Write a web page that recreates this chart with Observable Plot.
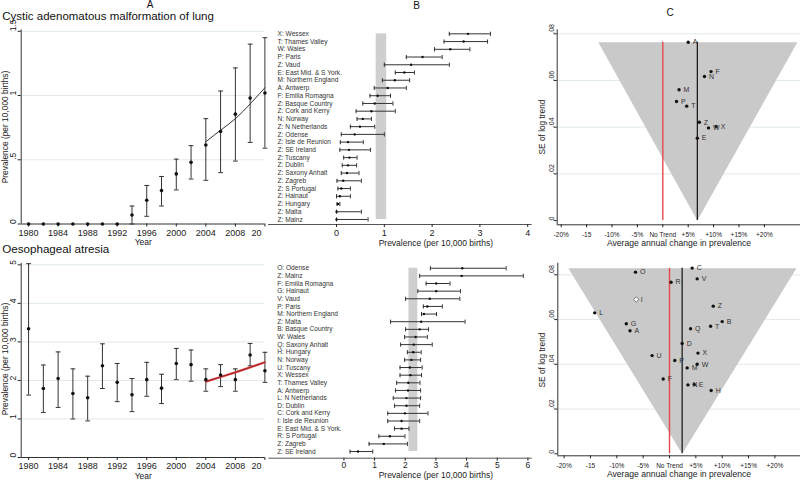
<!DOCTYPE html>
<html>
<head>
<meta charset="utf-8">
<script src="https://cdn.jsdelivr.net/npm/d3@7"></script>
<script src="https://cdn.jsdelivr.net/npm/@observablehq/plot@0.6"></script>
<style>
  html, body { margin: 0; padding: 0; background: #fff; }
  #root { position: relative; width: 800px; height: 480px; overflow: hidden; font-family: "Liberation Sans", Arial, sans-serif; }
  #root > svg { position: absolute; max-width: none !important; }
  .t { position: absolute; white-space: nowrap; line-height: 1; color: #222; }
</style>
</head>
<body>
<div id="root"></div>
<script>
// ---------------- DATA ----------------
const years = [1980,1982,1984,1986,1988,1990,1992,1994,1996,1998,2000,2002,2004,2006,2008,2010,2012];
const yearTicks = [1980,1984,1988,1992,1996,2000,2004,2008,2012];
const yearTickLabels = ["1980","1984","1988","1992","1996","2000","2004","2008","20"];

// Cystic adenomatous malformation of lung (per 10,000 births)
const cpamRate = [0,0,0,0,0,0,0,0.07,0.185,0.26,0.39,0.48,0.615,0.72,0.855,0.98,1.02];
const cpamLo   = [0,0,0,0,0,0,0,0,0.06,0.14,0.265,0.35,0.34,0.40,0.49,0.635,0.59];
const cpamHi   = [0,0,0,0,0,0,0,0.14,0.30,0.37,0.505,0.61,0.82,1.035,1.215,1.40,1.45];
const trendYears = [2004,2006,2008,2010,2012];
const cpamTrend = [0.64,0.73,0.82,0.935,1.06];
const cpamYTicks = [0,0.5,1,1.5];
const cpamYLabels = ["0",".5","1","1.5"];

// Oesophageal atresia
const oaRate = [3.34,1.79,2.05,1.66,1.55,2.38,1.95,1.63,2.02,1.80,2.44,2.41,2.02,2.14,2.02,2.66,2.25];
const oaLo   = [1.62,1.17,1.30,1.00,0.95,1.79,1.45,1.19,1.59,1.40,2.02,1.98,1.72,1.84,1.72,2.38,1.95];
const oaHi   = [5.03,2.40,2.74,2.30,2.11,2.95,2.44,2.05,2.47,2.16,2.83,2.79,2.30,2.41,2.30,2.96,2.73];
const oaTrend = [1.97,2.09,2.21,2.34,2.47];
const oaYTicks = [0,1,2,3,4,5];
const oaYLabels = ["0","1","2","3","4","5"];

// Panel B, registries 2004-2010
const cpamRegions = ["X: Wessex","T: Thames Valley","W: Wales","P: Paris","Z: Vaud","E: East Mid. & S York.","M: Northern England","A: Antwerp","F: Emilia Romagna","Z: Basque Country","Z: Cork and Kerry","N: Norway","Z: N Netherlands","Z: Odense","Z: Isle de Reunion","Z: SE Ireland","Z: Tuscany","Z: Dublin","Z: Saxony Anhalt","Z: Zagreb","Z: S Portugal","Z: Hainaut","Z: Hungary","Z: Malta","Z: Mainz"];
const cpamRegRate = [2.75,2.66,2.38,1.80,1.56,1.42,1.22,1.07,0.86,0.80,0.73,0.55,0.49,0.38,0.24,0.26,0.27,0.24,0.22,0.14,0.10,0.07,0.03,0,0];
const cpamRegLo   = [2.36,2.25,2.05,1.46,1.00,1.23,0.96,0.79,0.70,0.55,0.41,0.43,0.29,0.10,0.08,0.07,0.15,0.12,0.10,0.01,0.03,0,0.01,0,0];
const cpamRegHi   = [3.22,3.16,2.79,2.21,2.36,1.63,1.53,1.46,1.13,1.18,1.23,0.73,0.80,1.00,0.56,0.71,0.43,0.42,0.47,0.52,0.29,0.29,0.07,0.52,0.66];
const cpamBand = [0.83,1.05];
const cpamBTicks = [0,1,2,3,4];

const oaRegions = ["O: Odense","Z: Mainz","F: Emilia Romagna","G: Hainaut","V: Vaud","P: Paris","M: Northern England","Z: Malta","B: Basque Country","W: Wales","Q: Saxony Anhalt","H: Hungary","N: Norway","U: Tuscany","X: Wessex","T: Thames Valley","A: Antwerp","L: N Netherlands","D: Dublin","C: Cork and Kerry","I: Isle de Reunion","E: East Mid. & S York.","R: S Portugal","Z: Zagreb","Z: SE Ireland"];
const oaRegRate = [3.86,3.84,3.01,3.01,2.80,2.72,2.61,2.52,2.47,2.34,2.28,2.26,2.20,2.15,2.17,2.10,2.09,2.04,2.04,1.99,1.88,1.88,1.50,1.30,0.46];
const oaRegLo   = [2.82,2.47,2.68,2.41,2.01,2.59,2.53,1.52,2.01,1.98,1.85,2.07,1.98,1.83,1.83,1.72,1.68,1.61,1.65,1.43,1.43,1.65,1.14,0.82,0.20];
const oaRegHi   = [5.29,5.85,3.46,3.80,3.78,3.21,3.02,3.95,2.76,2.72,2.88,2.52,2.50,2.55,2.53,2.48,2.50,2.50,2.47,2.74,2.47,2.12,1.99,2.07,0.94];
const oaBand = [2.12,2.41];
const oaBTicks = [0,1,2,3,4,5,6];

// Panel C, funnel plots
const cXTicks = [-20,-15,-10,-5,0,5,10,15,20];
const cXLabels = ["-20%","-15","-10%","-5%","No Trend","+5%","+10%","+15%","+20%"];
const cYTicks = [0,0.02,0.04,0.06,0.08];
const cYLabels = ["0",".02",".04",".06",".08"];

const cpamIds    = ["A","F","N","M","P","T","Z","W","X","E"];
const cpamChange = [5.0,9.5,8.2,3.2,2.7,4.7,7.2,9.0,10.5,6.8];
const cpamSE     = [0.0764,0.0638,0.0617,0.056,0.051,0.049,0.0421,0.0397,0.0403,0.0353];
const cpamFunnelX  = [-12.7,6.8,26.5];
const cpamFunnelSE = [0.0764,0,0.0764];
const cpamPooled = 6.8;

const oaIds    = ["C","O","V","R","I","Z","L","G","B","T","A","Q","D","X","U","P","W","M","F","N","E","H"];
const oaChange = [4.3,-6.45,5.25,0.3,-6.3,8.3,-14.2,-8.2,10.0,7.8,-7.5,4.0,2.4,5.4,-3.3,1.0,5.25,3.35,-1.2,3.5,4.7,7.9];
const oaSE     = [0.083,0.0812,0.0782,0.0767,0.069,0.066,0.063,0.0581,0.0591,0.057,0.055,0.0559,0.0493,0.045,0.0439,0.0417,0.040,0.0384,0.0334,0.0308,0.031,0.0283];
const oaHollow = ["I"];
const oaFunnelX  = [-19.2,2.4,24.1];
const oaFunnelSE = [0.0829,0,0.0829];
const oaPooled = 2.4;

// ---------------- STYLE ----------------
const ink = "#222", axisInk = "#333", barInk = "#333", gridInk = "#e0e9ed", bandFill = "#cfcfcf", funnelFill = "#c9c9c9", redInk = "#e8474a";
const font = "'Liberation Sans', Arial, sans-serif";
const baseStyle = {background: "transparent", color: ink, fontFamily: font, fontSize: "9px", overflow: "visible"};
const hcap = {draw(ctx, size) { const r = Math.sqrt(size / Math.PI); ctx.moveTo(-r, 0); ctx.lineTo(r, 0); }};
const vcap = {draw(ctx, size) { const r = Math.sqrt(size / Math.PI); ctx.moveTo(0, -r); ctx.lineTo(0, r); }};

const root = document.getElementById("root");
function place(el, left, top) { el.style.left = left + "px"; el.style.top = top + "px"; root.appendChild(el); }
function txt(s, x, baseline, size, anchor = "start", color = "#222") {
  const d = document.createElement("div");
  d.className = "t"; d.textContent = s;
  d.style.fontSize = size + "px"; d.style.color = color;
  d.style.top = (baseline - 0.8465 * size) + "px";
  d.style.left = x + "px";
  if (anchor === "middle") d.style.transform = "translateX(-50%)";
  root.appendChild(d);
}
function vtxt(s, cx, cy, size) {
  const d = document.createElement("div");
  d.className = "t"; d.textContent = s; d.style.fontSize = size + "px";
  d.style.left = cx + "px"; d.style.top = cy + "px";
  d.style.transform = "translate(-50%,-50%) rotate(-90deg)";
  root.appendChild(d);
}

// ---------------- PANEL A ----------------
function trendPanel({rate, lo, hi, trend, yTicks, yLabels, ymax, top, height, mt, mb, red, pad}) {
  const data = years.map((y, i) => ({year: y, rate: rate[i], lo: lo[i], hi: hi[i]}));
  const bars = data.filter(d => d.hi > d.lo);
  const tr = trendYears.map((y, i) => ({year: y, v: trend[i]}));
  const last = yearTicks[yearTicks.length - 1];
  const width = 280;
  const marks = [
    Plot.ruleY(yTicks.slice(1), {stroke: gridInk}),
    Plot.ruleX([1979], {stroke: axisInk}),
    Plot.ruleY([0], {stroke: axisInk}),
    Plot.axisX({ticks: yearTicks, tickFormat: d => d === last ? "" : yearTickLabels[yearTicks.indexOf(d)], tickSize: 3, tickPadding: pad, fontSize: 9, label: null}),
    Plot.text([last], {x: d => d, text: () => yearTickLabels[yearTickLabels.length - 1], frameAnchor: "bottom", lineAnchor: "top", textAnchor: "end", dx: -3.5, dy: 3 + pad, fontSize: 9, fill: ink}),
    Plot.axisY({ticks: yTicks, tickFormat: () => "", tickSize: 3, tickPadding: 0, label: null}),
    Plot.text(yTicks, {y: d => d, text: (d, i) => yLabels[i], frameAnchor: "left", rotate: -90, dx: -7.6, fontSize: 8.5, fill: ink}),
    Plot.ruleX(bars, {x: "year", y1: "lo", y2: "hi", stroke: barInk, strokeWidth: 1}),
    Plot.dot(bars, {x: "year", y: "lo", symbol: hcap, r: 2.4, stroke: barInk, strokeWidth: 1}),
    Plot.dot(bars, {x: "year", y: "hi", symbol: hcap, r: 2.4, stroke: barInk, strokeWidth: 1}),
  ];
  if (red) {
    marks.push(Plot.line(tr, {x: "year", y: "v", stroke: redInk, strokeWidth: 2.2}));
    marks.push(Plot.line(tr, {x: "year", y: "v", stroke: "#5a1010", strokeWidth: 0.6}));
  } else {
    marks.push(Plot.line(tr, {x: "year", y: "v", stroke: "#333", strokeWidth: 1, curve: "natural"}));
  }
  marks.push(Plot.dot(data, {x: "year", y: "rate", r: 1.8, fill: "#111"}));
  const svg = Plot.plot({
    width, height, marginLeft: 20.7, marginRight: width - 264.4, marginTop: mt, marginBottom: mb,
    x: {domain: [1979, 2012]}, y: {domain: [0, ymax]}, style: baseStyle, marks
  });
  place(svg, 0, top);
}
trendPanel({rate: cpamRate, lo: cpamLo, hi: cpamHi, trend: cpamTrend, yTicks: cpamYTicks, yLabels: cpamYLabels, ymax: 1.511, top: 0, height: 250, mt: 29.4, mb: 250 - 223.5, red: false, pad: 2.5});
trendPanel({rate: oaRate, lo: oaLo, hi: oaHi, trend: oaTrend, yTicks: oaYTicks, yLabels: oaYLabels, ymax: 5.04, top: 240, height: 240, mt: 22.8, mb: 23, red: true, pad: 2});

// ---------------- PANEL B ----------------
function forestPanel({labels, rate, lo, hi, band, ticks, xdom, top, height, mt, mb, ymax, ml, labelDx, pad, tickFont}) {
  const rows = labels.map((l, i) => ({i, label: l, rate: rate[i], lo: lo[i], hi: hi[i]}));
  const bars = rows.filter(d => d.hi > d.lo);
  const width = 278;
  const svg = Plot.plot({
    width, height, marginLeft: ml, marginRight: 8.3, marginTop: mt, marginBottom: mb,
    x: {domain: xdom}, y: {domain: [ymax, -1], axis: null}, style: baseStyle,
    marks: [
      Plot.rect([band], {x1: d => d[0], x2: d => d[1], y1: 0, y2: labels.length - 1, fill: bandFill}),
      Plot.ruleY([ymax], {stroke: "#555"}),
      Plot.axisX({ticks, tickFormat: d => String(d), tickSize: 3, tickPadding: pad, fontSize: tickFont, label: null}),
      Plot.ruleY(bars, {y: "i", x1: "lo", x2: "hi", stroke: barInk, strokeWidth: 1}),
      Plot.dot(bars, {x: "lo", y: "i", symbol: vcap, r: 2.1, stroke: barInk, strokeWidth: 1}),
      Plot.dot(bars, {x: "hi", y: "i", symbol: vcap, r: 2.1, stroke: barInk, strokeWidth: 1}),
      Plot.dot(rows, {x: "rate", y: "i", r: 1.2, fill: "#111"}),
      Plot.text(rows, {y: "i", text: "label", frameAnchor: "left", dx: labelDx, textAnchor: "start", fontSize: 6.6, fill: "#333"})
    ]
  });
  place(svg, 262, top);
}
forestPanel({labels: cpamRegions, rate: cpamRegRate, lo: cpamRegLo, hi: cpamRegHi, band: cpamBand, ticks: cpamBTicks, xdom: [-1.423, 4.094], top: 0, height: 250, mt: 25.6, mb: 26, ymax: 24.65, ml: 6, labelDx: 9, pad: 1.8, tickFont: 9});
forestPanel({labels: oaRegions, rate: oaRegRate, lo: oaRegLo, hi: oaRegHi, band: oaBand, ticks: oaBTicks, xdom: [-2.45, 6.14], top: 240, height: 240, mt: 20.1, mb: 22.3, ymax: 24.87, ml: 6.3, labelDx: 8.4, pad: 1.2, tickFont: 8.5});

// ---------------- PANEL C ----------------
function funnelPanel({ids, change, se, hollow, fx, fse, pooled, xdom, ydom, top, height, mt, mb, ml}) {
  const pts = ids.map((id, i) => ({id, x: change[i], se: se[i]}));
  const funnel = fx.map((x, i) => ({x, se: fse[i]}));
  const seTop = d3.max(fse);
  const svg = Plot.plot({
    width: 260, height, marginLeft: ml, marginRight: 0, marginTop: mt, marginBottom: mb,
    x: {domain: xdom}, y: {domain: ydom}, style: baseStyle,
    marks: [
      Plot.ruleY(cYTicks.slice(1), {stroke: gridInk}),
      Plot.line(funnel, {x: "x", y: "se", fill: funnelFill, stroke: "none"}),
      Plot.ruleX([xdom[0]], {stroke: axisInk}),
      Plot.ruleY([ydom[0]], {stroke: axisInk}),
      Plot.axisX({ticks: cXTicks, tickFormat: d => cXLabels[cXTicks.indexOf(d)], tickSize: 3, tickPadding: 4.4, fontSize: 6.5, label: null}),
      Plot.axisY({ticks: cYTicks, tickFormat: () => "", tickSize: 3, tickPadding: 0, label: null}),
      Plot.text(cYTicks, {y: d => d, text: (d, i) => cYLabels[i], frameAnchor: "left", rotate: -90, dx: -5.8, fontSize: 7, fill: ink}),
      Plot.ruleX([0], {y1: 0, y2: seTop, stroke: redInk, strokeWidth: 1.4}),
      Plot.ruleX([pooled], {y1: 0, y2: seTop, stroke: "#111", strokeWidth: 1.2}),
      Plot.dot(pts.filter(d => !hollow.includes(d.id)), {x: "x", y: "se", r: 1.7, fill: "#111"}),
      Plot.dot(pts.filter(d => hollow.includes(d.id)), {x: "x", y: "se", symbol: "diamond2", r: 2.4, fill: "white", stroke: "#555", strokeWidth: 0.8}),
      Plot.text(pts, {x: "x", y: "se", text: "id", dx: 4.5, textAnchor: "start", fontSize: 7, fill: "#333"})
    ]
  });
  place(svg, 540, top);
}
funnelPanel({ids: cpamIds, change: cpamChange, se: cpamSE, hollow: [], fx: cpamFunnelX, fse: cpamFunnelSE, pooled: cpamPooled, xdom: [-20.79, 27.11], ydom: [-0.0018, 0.0817], top: 0, height: 250, mt: 29.3, mb: 25.7, ml: 16.7});
funnelPanel({ids: oaIds, change: oaChange, se: oaSE, hollow: oaHollow, fx: oaFunnelX, fse: oaFunnelSE, pooled: oaPooled, xdom: [-21.2, 24.86], ydom: [-0.0009, 0.0852], top: 240, height: 240, mt: 22.7, mb: 24.7, ml: 17.3});

// ---------------- TEXT ----------------
txt("A", 150, 8.5, 10, "middle", "#111");
txt("B", 416.7, 9, 10, "middle", "#111");
txt("C", 670, 16.7, 10, "middle", "#111");
txt("Cystic adenomatous malformation of lung", 2.3, 21, 11.5, "start", "#111");
txt("Oesophageal atresia", 2.3, 252.5, 11.6, "start", "#111");
vtxt("Prevalence (per 10,000 births)", 4.8, 126.7, 8.4);
vtxt("Prevalence (per 10,000 births)", 4.8, 359, 8.4);
txt("Year", 143.3, 245.5, 8.5, "middle");
txt("Year", 143.3, 478.8, 8.5, "middle");
txt("Prevalence (per 10,000 births)", 435.8, 246, 8.5, "middle");
txt("Prevalence (per 10,000 births)", 435.8, 478.6, 8.5, "middle");
txt("Average annual change in prevalence", 679, 246.5, 8.6, "middle");
txt("Average annual change in prevalence", 679, 477.3, 8.6, "middle");
vtxt("SE of log trend", 541.5, 127, 8.3);
vtxt("SE of log trend", 541.5, 360, 8.3);
</script>
</body>
</html>
